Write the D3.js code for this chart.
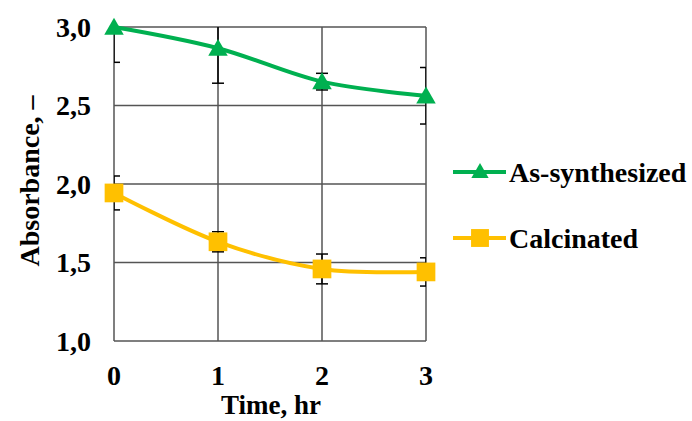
<!DOCTYPE html>
<html>
<head>
<meta charset="utf-8">
<script src="https://cdn.jsdelivr.net/npm/d3@7"></script>
<style>
  body { margin: 0; background: #fff; }
  text { font-family: "Liberation Serif", "Times New Roman", serif; font-weight: bold; fill: #000; }
</style>
</head>
<body>
<svg id="chart" width="692" height="421"></svg>
<script>
var times = [0, 1, 2, 3];
var yTicks = [1.0, 1.5, 2.0, 2.5, 3.0];
var asSynth = [3.00, 2.865, 2.652, 2.562];
var asSynthErr = [0.225, 0.223, 0.053, 0.18];
var calcined = [1.943, 1.632, 1.459, 1.44];
var calcinedErr = [0.108, 0.064, 0.095, 0.09];
var seriesNames = ["As-synthesized", "Calcinated"];
var seriesColors = ["#00b050", "#ffc000"];

var svg = d3.select("#chart");
var pLeft = 114, pRight = 426, pTop = 27, pBottom = 341;

var x = d3.scaleLinear().domain([0, 3]).range([pLeft, pRight]);
var y = d3.scaleLinear().domain([1, 3]).range([pBottom, pTop]);

var fmt = function(d) { return d3.format(".1f")(d).replace(".", ","); };

// grid
var grid = svg.append("g").attr("stroke", "#555").attr("stroke-width", 1.5);
grid.selectAll("line.h").data(yTicks).enter().append("line")
  .attr("x1", pLeft).attr("x2", pRight)
  .attr("y1", function(d) { return y(d); }).attr("y2", function(d) { return y(d); });
grid.selectAll("line.v").data(times).enter().append("line")
  .attr("y1", pTop).attr("y2", pBottom)
  .attr("x1", function(d) { return x(d); }).attr("x2", function(d) { return x(d); });

// axes labels
svg.append("g").selectAll("text").data(yTicks).enter().append("text")
  .attr("x", 91).attr("y", function(d) { return y(d); })
  .attr("dy", "0.35em").attr("text-anchor", "end")
  .style("font-size", "28px").text(fmt);

svg.append("g").selectAll("text").data(times).enter().append("text")
  .attr("x", function(d) { return x(d); }).attr("y", 385)
  .attr("text-anchor", "middle")
  .style("font-size", "28px").text(function(d) { return d; });

svg.append("text").attr("x", 271).attr("y", 414).attr("text-anchor", "middle")
  .style("font-size", "27px").text("Time, hr");

svg.append("text").attr("transform", "translate(39,181) rotate(-90)")
  .attr("text-anchor", "middle").style("font-size", "28px").text("Absorbance, –");

// clip for plot area
svg.append("clipPath").attr("id", "plotclip").append("rect")
  .attr("x", pLeft).attr("y", pTop).attr("width", pRight - pLeft).attr("height", pBottom - pTop);

var series = [
  { name: seriesNames[0], color: seriesColors[0], vals: asSynth, err: asSynthErr, shape: d3.symbolTriangle },
  { name: seriesNames[1], color: seriesColors[1], vals: calcined, err: calcinedErr, shape: d3.symbolSquare }
];

var line = d3.line()
  .x(function(d, i) { return x(times[i]); })
  .y(function(d) { return y(d); })
  .curve(d3.curveCatmullRom.alpha(0));

series.forEach(function(s) {
  var eb = svg.append("g").attr("clip-path", "url(#plotclip)")
    .attr("stroke", "#000").attr("stroke-width", 1.5);
  s.vals.forEach(function(v, i) {
    var cx = x(times[i]);
    eb.append("line").attr("x1", cx).attr("x2", cx)
      .attr("y1", y(v - s.err[i])).attr("y2", y(v + s.err[i]));
    [v - s.err[i], v + s.err[i]].forEach(function(e) {
      eb.append("line").attr("x1", cx - 6).attr("x2", cx + 6)
        .attr("y1", y(e)).attr("y2", y(e));
    });
  });

  svg.append("path").datum(s.vals)
    .attr("d", line).attr("fill", "none")
    .attr("stroke", s.color).attr("stroke-width", 4);

  svg.append("g").selectAll("path").data(s.vals).enter().append("path")
    .attr("transform", function(d, i) { return "translate(" + x(times[i]) + "," + (y(d) + (s.shape === d3.symbolTriangle ? 2 : 0)) + ")"; })
    .attr("d", d3.symbol().type(s.shape).size(s.shape === d3.symbolTriangle ? 165 : 350))
    .attr("fill", s.color);
});

// legend
var legY = [172, 238];
series.forEach(function(s, i) {
  var g = svg.append("g");
  g.append("line").attr("x1", 453).attr("x2", 506).attr("y1", legY[i]).attr("y2", legY[i])
    .attr("stroke", s.color).attr("stroke-width", 4);
  g.append("path")
    .attr("transform", "translate(480," + (legY[i] + (i === 0 ? 1 : 0)) + ")")
    .attr("d", d3.symbol().type(s.shape).size(i === 0 ? 130 : 320))
    .attr("fill", s.color);
  g.append("text").attr("x", 509).attr("y", legY[i]).attr("dy", "0.35em")
    .style("font-size", "28px").text(s.name);
});
</script>
</body>
</html>
